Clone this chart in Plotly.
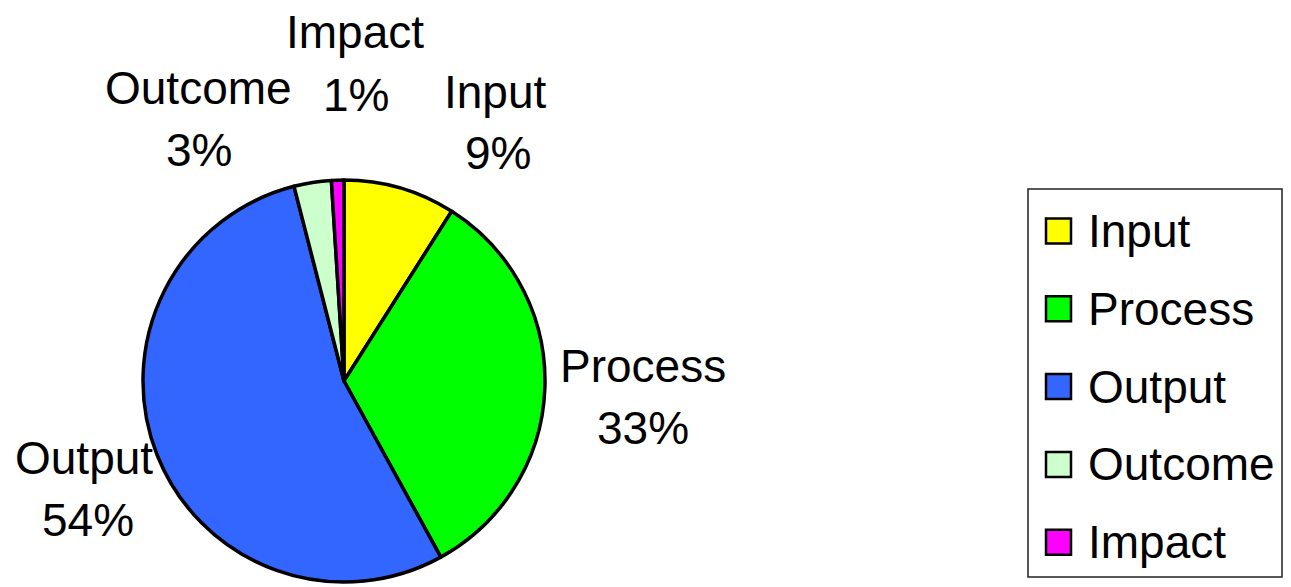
import plotly.graph_objects as go

categories = ["Input", "Process", "Output", "Outcome", "Impact"]
values = [9, 33, 54, 3, 1]
colors = ["#FFFF00", "#00FF00", "#3366FF", "#CCFFCC", "#FF00FF"]

W, H = 1291, 587
FONT = "Liberation Sans, Arial, sans-serif"
FS = 46

# label anchor points (pixel centres) for name / percent lines
label_pos = {
    "Input": ((495, 92), (498, 153)),
    "Process": ((643, 366), (643, 428)),
    "Output": ((84, 458), (88, 520)),
    "Outcome": ((198, 88), (199, 150)),
    "Impact": ((355, 32), (356, 95)),
}

cx, cy, r = 344, 381, 201

fig = go.Figure()
fig.add_trace(go.Pie(
    labels=categories, values=values,
    marker=dict(colors=colors, line=dict(color="black", width=3.5)),
    sort=False, direction="clockwise", rotation=0,
    textinfo="none", hoverinfo="label+percent",
    showlegend=False,
    domain=dict(x=[(cx - r) / W, (cx + r) / W], y=[(H - cy - r) / H, (H - cy + r) / H]),
))

def px(x):
    return x / W

def py(y):
    return 1 - y / H

annotations = []
total = sum(values)
for cat, v in zip(categories, values):
    (nx, ny), (qx, qy) = label_pos[cat]
    pct = round(100 * v / total)
    annotations.append(dict(x=px(nx), y=py(ny), xref="paper", yref="paper", text=cat,
                            showarrow=False, xanchor="center", yanchor="middle",
                            font=dict(family=FONT, size=FS, color="black")))
    annotations.append(dict(x=px(qx), y=py(qy), xref="paper", yref="paper", text=f"{pct}%",
                            showarrow=False, xanchor="center", yanchor="middle",
                            font=dict(family=FONT, size=FS, color="black")))

# custom legend
shapes = [dict(type="rect", xref="paper", yref="paper",
               x0=px(1028), x1=px(1282), y0=py(577), y1=py(189),
               line=dict(color="#222222", width=1.5), fillcolor="white", layer="below")]
leg_y0, leg_dy = 231, 77.8
for i, (cat, col) in enumerate(zip(categories, colors)):
    yc = leg_y0 + i * leg_dy
    shapes.append(dict(type="rect", xref="paper", yref="paper",
                       x0=px(1046), x1=px(1071), y0=py(yc + 12.5), y1=py(yc - 12.5),
                       line=dict(color="black", width=2.5), fillcolor=col))
    annotations.append(dict(x=px(1086), y=py(yc), xref="paper", yref="paper", text=cat,
                            showarrow=False, xanchor="left", yanchor="middle",
                            font=dict(family=FONT, size=FS, color="black")))

fig.update_layout(
    width=W, height=H,
    margin=dict(l=0, r=0, t=0, b=0),
    paper_bgcolor="white", plot_bgcolor="white",
    annotations=annotations, shapes=shapes,
    showlegend=False,
)

fig.write_html("out.html")
